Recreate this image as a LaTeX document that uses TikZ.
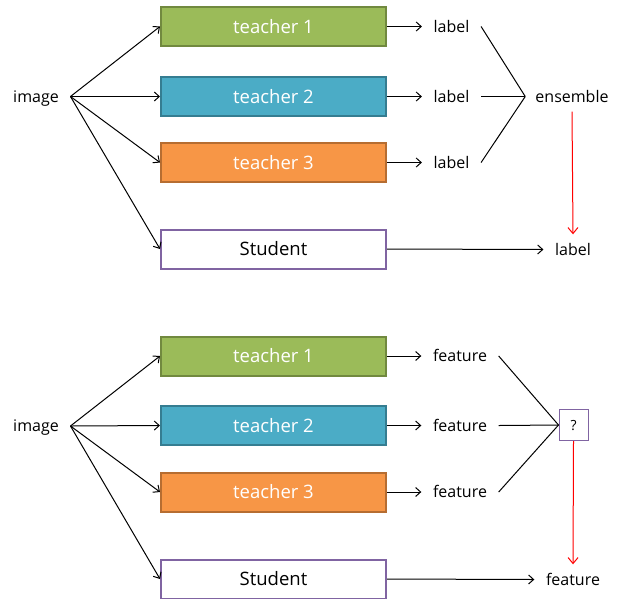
\documentclass[tikz,border=0pt]{standalone}
\usepackage{fontspec}
\setmainfont{Open Sans}
\usetikzlibrary{arrows.meta}
\definecolor{tgreen}{HTML}{9BBB59}
\definecolor{tgreenb}{HTML}{71893F}
\definecolor{tblue}{HTML}{4BACC6}
\definecolor{tblueb}{HTML}{357D91}
\definecolor{torange}{HTML}{F79646}
\definecolor{torangeb}{HTML}{B66D31}
\definecolor{spurple}{HTML}{8064A2}
\tikzset{
  box/.style={draw, line width=2pt, minimum width=225pt, minimum height=39pt, inner sep=0pt, text height=15pt, text depth=2pt, font=\fontsize{18.5}{21}\selectfont},
  teacherbox/.style={box, text=white},
  studentbox/.style={box, draw=spurple, fill=white, text=black},
  plain/.style={inner xsep=11.5pt, inner ysep=0pt, text height=13.5pt, text depth=1.7pt, minimum height=30pt, font=\fontsize{16}{19}\selectfont},
  qbox/.style={draw=spurple, line width=1pt, minimum width=29pt, minimum height=31pt, inner sep=0pt, text height=12pt, text depth=1pt, font=\fontsize{14}{16}\selectfont},
  arr/.style={line width=1pt, -{Straight Barb[length=5pt,width=9pt]}},
  ln/.style={line width=1pt},
  redarr/.style={line width=1pt, red, -{Straight Barb[length=6pt,width=10pt]}},
}
\begin{document}
\begin{tikzpicture}[x=1pt,y=-1pt]
\useasboundingbox (0,0) rectangle (617,598);
% ---------- top ----------
\node[plain] (img1) at (36,96.5) {image};
\node[teacherbox, fill=tgreen, draw=tgreenb] (t11) at (273.5,26.5) {teacher 1};
\node[teacherbox, fill=tblue, draw=tblueb] (t12) at (273.5,96.5) {teacher 2};
\node[teacherbox, fill=torange, draw=torangeb] (t13) at (273.5,162.5) {teacher 3};
\node[studentbox] (s1) at (273.5,249) {Student};
\node[plain] (l11) at (451.5,26.5) {label};
\node[plain] (l12) at (451.5,96.5) {label};
\node[plain] (l13) at (451.5,162.5) {label};
\node[plain, inner xsep=10pt] (ens) at (572,96.5) {ensemble};
\node[plain] (lout) at (573,249.5) {label};
\foreach \t in {t11,t12,t13,s1} \draw[arr] (img1.east) -- (\t.west);
\draw[arr] (t11.east) -- (l11.west);
\draw[arr] (t12.east) -- (l12.west);
\draw[arr] (t13.east) -- (l13.west);
\draw[ln] (l11.east) -- (ens.west);
\draw[ln] (l12.east) -- (ens.west);
\draw[ln] (l13.east) -- (ens.west);
\draw[redarr] (ens.south) -- (lout.north);
\draw[arr] (s1.east) -- (lout.west);
% ---------- bottom ----------
\node[plain] (img2) at (36,426) {image};
\node[teacherbox, fill=tgreen, draw=tgreenb] (t21) at (273.5,356) {teacher 1};
\node[teacherbox, fill=tblue, draw=tblueb] (t22) at (273.5,425.5) {teacher 2};
\node[teacherbox, fill=torange, draw=torangeb] (t23) at (273.5,492) {teacher 3};
\node[studentbox] (s2) at (273.5,579) {Student};
\node[plain] (f21) at (460,356) {feature};
\node[plain] (f22) at (460,425.5) {feature};
\node[plain] (f23) at (460,492) {feature};
\node[qbox] (q) at (573.5,425) {?};
\node[plain] (fout) at (573,579.5) {feature};
\foreach \t in {t21,t22,t23,s2} \draw[arr] (img2.east) -- (\t.west);
\draw[arr] (t21.east) -- (f21.west);
\draw[arr] (t22.east) -- (f22.west);
\draw[arr] (t23.east) -- (f23.west);
\draw[ln] (f21.east) -- (q.west);
\draw[ln] (f22.east) -- (q.west);
\draw[ln] (f23.east) -- (q.west);
\draw[redarr] (q.south) -- (fout.north);
\draw[arr] (s2.east) -- (fout.west);
\end{tikzpicture}
\end{document}
